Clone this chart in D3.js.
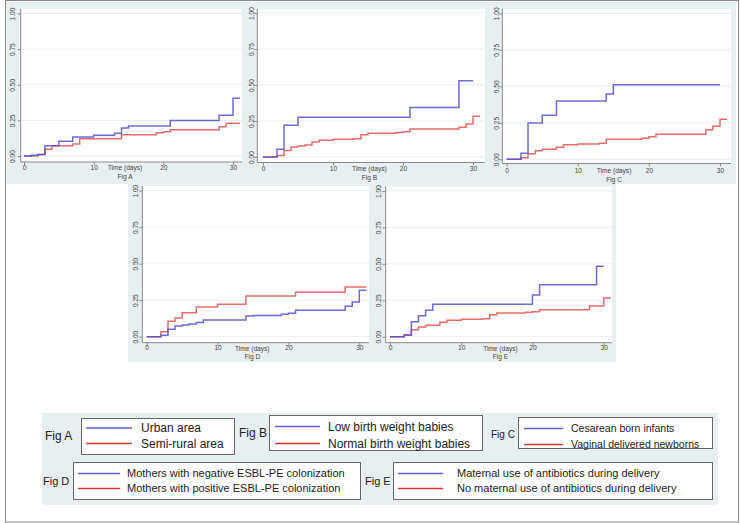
<!DOCTYPE html>
<html><head><meta charset="utf-8">
<script src="https://cdn.jsdelivr.net/npm/d3@7"></script>
<style>html,body{margin:0;padding:0;background:#fff;}svg{display:block;font-family:"Liberation Sans",Arial,sans-serif;}</style>
</head><body><svg id="c" width="740" height="523"></svg>
<script>
// ---------- data ----------
const yTicks = [0, 0.25, 0.5, 0.75, 1];
const yTickLabels = ["0.00", "0.25", "0.50", "0.75", "1.00"];
const xTicks = [0, 10, 20, 30];
const xTitle = "Time (days)";
const panelTitles = ["Fig A", "Fig B", "Fig C", "Fig D", "Fig E"];

const figA_blue_t = [0,1,2,3,5,7,10,13,14,15,21,28,30,31];
const figA_blue_s = [0,0.005,0.01,0.072,0.103,0.133,0.145,0.159,0.196,0.21,0.25,0.286,0.405,0.405];
const figA_red_t  = [0,2,3,4,7,8,14,19,20,21,28,29,31];
const figA_red_s  = [0,0.01,0.047,0.072,0.084,0.121,0.15,0.164,0.17,0.185,0.206,0.23,0.23];

const figB_blue_t = [0,2,3,5,21,28,30];
const figB_blue_s = [0,0.053,0.22,0.276,0.343,0.53,0.53];
const figB_red_t  = [0,2,3,4,5,6,7,8,10,13,14,15,19,20,21,28,29,30,31];
const figB_red_s  = [0,0.01,0.046,0.069,0.076,0.083,0.104,0.116,0.123,0.127,0.155,0.165,0.17,0.175,0.194,0.206,0.229,0.283,0.283];

const figC_blue_t = [0,2,3,5,7,14,15,30];
const figC_blue_s = [0,0.041,0.249,0.301,0.40,0.447,0.511,0.511];
const figC_red_t  = [0,2,3,4,5,7,8,10,13,14,19,20,21,28,29,30,31];
const figC_red_s  = [0,0.01,0.038,0.059,0.068,0.082,0.1,0.105,0.11,0.137,0.144,0.155,0.171,0.203,0.226,0.274,0.274];

const figD_blue_t = [0,2,3,4,5,6,7,8,14,15,19,20,21,28,29,30,31];
const figD_blue_s = [0,0.01,0.051,0.073,0.08,0.087,0.098,0.114,0.142,0.146,0.153,0.16,0.181,0.208,0.238,0.318,0.318];
const figD_red_t  = [0,2,3,4,5,7,10,14,21,28,31];
const figD_red_s  = [0,0.034,0.105,0.128,0.164,0.203,0.222,0.279,0.304,0.34,0.34];

const figE_blue_t = [0,2,3,4,5,6,20,21,29,30];
const figE_blue_s = [0,0.01,0.103,0.144,0.181,0.222,0.286,0.357,0.483,0.483];
const figE_red_t  = [0,2,3,4,5,7,8,10,13,14,15,19,20,21,28,30,31];
const figE_red_s  = [0,0.014,0.048,0.066,0.078,0.099,0.113,0.119,0.124,0.151,0.163,0.167,0.172,0.185,0.21,0.266,0.266];

const legendA = ["Urban area", "Semi-rural area"];
const legendB = ["Low birth weight babies", "Normal birth weight babies"];
const legendC = ["Cesarean born infants", "Vaginal delivered newborns"];
const legendD = ["Mothers with negative ESBL-PE colonization", "Mothers with positive ESBL-PE colonization"];
const legendE = ["Maternal use of antibiotics during delivery", "No maternal use of antibiotics during delivery"];

// ---------- styles ----------
const BG = "#e8eff1", BLUE = "#5252cc", RED = "#e05252";
const LBLUE = "#5f5fdc", LRED = "#e03535";
const AX = "#8a8a8a", TXT = "#444";

const svg = d3.select("#c");
svg.append("rect").attr("x",0).attr("y",0).attr("width",740).attr("height",523).attr("fill","#fff");

// backgrounds
svg.append("rect").attr("x",6).attr("y",2).attr("width",730).attr("height",182).attr("fill",BG);
svg.append("rect").attr("x",128).attr("y",183).attr("width",488).attr("height",179).attr("fill",BG);
svg.append("rect").attr("x",42).attr("y",413).attr("width",676).attr("height",92).attr("fill",BG);

const zip = (t, s) => t.map((d, i) => [d, s[i]]);

const panels = [
  {title: panelTitles[0], px0: 20.7, px1: 242, py0: 9, py1: 162, x0: 24, x30: 233, y0: 156, y1: 13.5, ylab: 8.5, xlab: 6, tdy: 15, tday: 14.5, blue: zip(figA_blue_t, figA_blue_s), red: zip(figA_red_t, figA_red_s)},
  {title: panelTitles[1], px0: 257.3, px1: 485, py0: 9, py1: 162.5, x0: 263, x30: 473, y0: 157, y1: 13, ylab: 6, xlab: 6, tdy: 15.5, tday: 15.2, blue: zip(figB_blue_t, figB_blue_s), red: zip(figB_red_t, figB_red_s)},
  {title: panelTitles[2], px0: 502.3, px1: 731, py0: 9, py1: 163.5, x0: 506.7, x30: 720, y0: 159.3, y1: 13.3, ylab: 5.8, xlab: 7.5, tdy: 16.5, tday: 15.1, blue: zip(figC_blue_t, figC_blue_s), red: zip(figC_red_t, figC_red_s)},
  {title: panelTitles[3], px0: 142.3, px1: 369, py0: 186, py1: 342.7, x0: 146.7, x30: 359.3, y0: 336.7, y1: 190.7, ylab: 7.3, xlab: 5.5, tdy: 14, tday: 14.9, blue: zip(figD_blue_t, figD_blue_s), red: zip(figD_red_t, figD_red_s)},
  {title: panelTitles[4], px0: 385.7, px1: 612, py0: 186.5, py1: 342.7, x0: 390, x30: 603.7, y0: 336.7, y1: 191, ylab: 7.4, xlab: 5.5, tdy: 14.3, tday: 15.5, blue: zip(figE_blue_t, figE_blue_s), red: zip(figE_red_t, figE_red_s)}
];

panels.forEach(p => {
  const g = svg.append("g");
  g.append("rect").attr("x",p.px0).attr("y",p.py0).attr("width",p.px1-p.px0).attr("height",p.py1-p.py0).attr("fill","#fff");
  const x = d3.scaleLinear().domain([0,30]).range([p.x0, p.x30]);
  const y = d3.scaleLinear().domain([0,1]).range([p.y0, p.y1]);
  g.selectAll(".grid").data(yTicks).join("line")
    .attr("x1",p.px0).attr("x2",p.px1).attr("y1",d=>y(d)).attr("y2",d=>y(d))
    .attr("stroke","#e9eff1").attr("stroke-width",1);
  const ya = g.append("g").attr("transform",`translate(${p.px0},0)`)
    .call(d3.axisLeft(y).tickValues(yTicks).tickFormat((d,i)=>yTickLabels[i]).tickSize(3));
  ya.select(".domain").remove();
  ya.selectAll(".tick line").attr("stroke",AX);
  ya.selectAll(".tick text").attr("x",0).attr("dy",null).attr("y",-p.ylab)
    .attr("transform","rotate(-90)").attr("text-anchor","middle").attr("dominant-baseline","central")
    .attr("fill",TXT).attr("font-size",6.6).attr("font-family","Liberation Sans, Arial, sans-serif");
  g.append("line").attr("x1",p.px0).attr("x2",p.px0).attr("y1",p.py0).attr("y2",p.py1).attr("stroke",AX);
  const xa = g.append("g").attr("transform",`translate(0,${p.py1})`)
    .call(d3.axisBottom(x).tickValues(xTicks).tickSize(3));
  xa.select(".domain").remove();
  xa.selectAll(".tick line").attr("stroke",AX);
  xa.selectAll(".tick text").attr("y",p.xlab).attr("dy","0.35em").attr("fill",TXT)
    .attr("font-size",6.6).attr("font-family","Liberation Sans, Arial, sans-serif");
  g.append("line").attr("x1",p.px0).attr("x2",p.px1).attr("y1",p.py1).attr("y2",p.py1).attr("stroke",AX);
  g.append("text").attr("x",x(p.tday)).attr("y",p.py1+p.xlab).attr("dy","0.35em").attr("text-anchor","middle")
    .attr("font-size",6.6).attr("fill",TXT).text(xTitle);
  g.append("text").attr("x",x(p.tday)).attr("y",p.py1+p.tdy).attr("dy","0.35em").attr("text-anchor","middle")
    .attr("font-size",6.6).attr("fill",TXT).text(p.title);
  const line = d3.line().x(d=>x(d[0])).y(d=>y(d[1])).curve(d3.curveStepAfter);
  g.append("path").datum(p.red).attr("d",line).attr("fill","none").attr("stroke",RED).attr("stroke-width",1.5).attr("stroke-opacity",0.85);
  g.append("path").datum(p.blue).attr("d",line).attr("fill","none").attr("stroke",BLUE).attr("stroke-width",1.5).attr("stroke-opacity",0.85);
});

// ---------- legends ----------
const legends = [
  {label: "Fig A", lx: 45, ly: 436, fs: 12, box: [81, 418, 153, 36], l0: 86, l1: 132, ys: [428, 443.5], tx: 141, tfs: 12, items: legendA},
  {label: "Fig B", lx: 239, ly: 433, fs: 12, box: [269, 415, 213, 35], l0: 275, l1: 320, ys: [426.5, 443.5], tx: 328, tfs: 12, items: legendB},
  {label: "Fig C", lx: 491, ly: 434, fs: 10, box: [518, 417, 194, 31], l0: 524, l1: 563, ys: [428.5, 444.5], tx: 571, tfs: 10.5, items: legendC},
  {label: "Fig D", lx: 43, ly: 481.5, fs: 11, box: [73, 462, 287, 37], l0: 78, l1: 120, ys: [473.5, 488.5], tx: 127, tfs: 11, items: legendD},
  {label: "Fig E", lx: 365, ly: 481.5, fs: 11, box: [393, 462, 319, 37], l0: 398, l1: 443, ys: [473.5, 488.5], tx: 457, tfs: 11, items: legendE}
];
const lcolors = [LBLUE, LRED];
legends.forEach(L => {
  const g = svg.append("g");
  g.append("text").attr("x",L.lx).attr("y",L.ly).attr("dy","0.35em").attr("font-size",L.fs).attr("fill","#222").text(L.label);
  g.append("rect").attr("x",L.box[0]+0.5).attr("y",L.box[1]+0.5).attr("width",L.box[2]).attr("height",L.box[3])
    .attr("fill","#fff").attr("stroke","#666").attr("stroke-width",1);
  L.items.forEach((t,i) => {
    g.append("line").attr("x1",L.l0).attr("x2",L.l1).attr("y1",L.ys[i]).attr("y2",L.ys[i]).attr("stroke",lcolors[i]).attr("stroke-width",1.5);
    g.append("text").attr("x",L.tx).attr("y",L.ys[i]).attr("dy","0.35em").attr("font-size",L.tfs).attr("fill","#222").text(t);
  });
});

// outer frame
svg.append("rect").attr("x",5.5).attr("y",0.5).attr("width",733).attr("height",521.5).attr("fill","none").attr("stroke","#8a8a8a");
</script></body></html>
